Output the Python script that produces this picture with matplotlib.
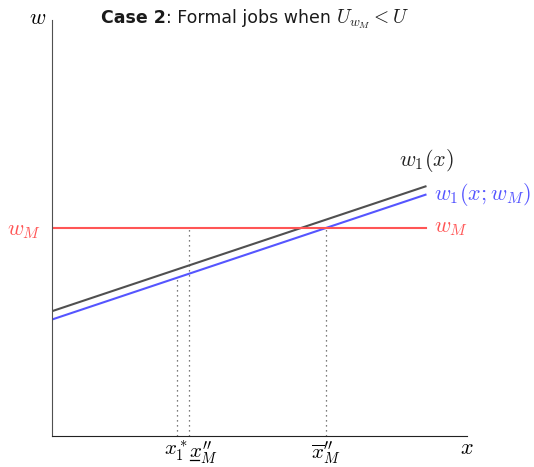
import numpy as np
import matplotlib.pyplot as plt
from matplotlib.lines import Line2D

plt.rcParams['mathtext.fontset'] = 'cm'

# wage schedules over productivity x
x_end = 9.0
w1_intercept, w1_slope = 3.0, 1 / 3
w1m_intercept, w1m_slope = 2.8, 1 / 3
w_min = 5.0

# cutoffs on the x axis
x_star = 3.0
x_low = 3.3
x_high = 6.6
tick_labels = [r'$x_1^*$', r'$x_M^{\prime\prime}$', r'$\overline{x}_M^{\prime\prime}$']

black = '#505050'
blue = '#5555ff'
red = '#ff5555'


def main():
    fig = plt.figure(figsize=(5.34, 4.67), dpi=100)
    ax = fig.add_axes([52 / 534, 31 / 467, 415 / 534, 416 / 467])

    xs = np.array([0, x_end])
    ax.plot(xs, w1_intercept + w1_slope * xs, color=black, lw=1.5)
    ax.plot(xs, w1m_intercept + w1m_slope * xs, color=blue, lw=1.5)
    ax.plot(xs, [w_min, w_min], color=red, lw=1.5)

    # dotted guides down to the x axis
    ax.plot([x_star, x_star], [0, w1m_intercept + w1m_slope * x_star], color=black, lw=0.9, ls=(0, (1, 3)))
    ax.plot([x_low, x_low], [0, w_min], color=black, lw=0.9, ls=(0, (1, 3)))
    ax.plot([x_high, x_high], [0, w_min], color=black, lw=0.9, ls=(0, (1, 3)))

    ax.set_xlim(0, 10)
    ax.set_ylim(0, 10)
    ax.spines['top'].set_visible(False)
    ax.spines['right'].set_visible(False)
    ax.spines['left'].set_color(black)
    ax.spines['bottom'].set_color('#222222')
    ax.tick_params(axis='x', length=0, labelsize=15, pad=2)
    ax.tick_params(axis='y', length=0, labelsize=16, pad=8)
    ax.set_xticks([x_star, x_low, x_high])
    ax.set_xticklabels(tick_labels)
    ax.get_xticklabels()[1].set_horizontalalignment('left')
    ax.set_yticks([w_min])
    ax.set_yticklabels([r'$w_M$'], color=red)

    ax.text(8.36, 6.63, r'$w_1(x)$', color='#222222', fontsize=16, ha='left', va='center')
    ax.text(x_end + 0.2, w1m_intercept + w1m_slope * x_end, r'$w_1(x; w_M)$', color=blue,
            fontsize=16, ha='left', va='center')
    ax.text(x_end + 0.2, w_min, r'$w_M$', color=red, fontsize=16, ha='left', va='center')

    ax.text(-0.34, 10.05, r'$w$', fontsize=16, ha='center', va='center', clip_on=False)
    ax.text(10.0, -0.28, r'$x$', fontsize=16, ha='center', va='center', clip_on=False)

    # title built from pieces: bold sans lead-in, plain text, then the math
    fig.canvas.draw()
    renderer = fig.canvas.get_renderer()
    pieces = [('Case 2', dict(weight='bold')), (': Formal jobs when ', {}),
              (r'$U_{w_M} < U$', dict(fontsize=14))]
    x0 = 101
    for s, kw in pieces:
        opts = dict(fontsize=12.5, family='DejaVu Sans', color='#1a1a1a', va='baseline',
                    ha='left', transform=None)
        opts.update(kw)
        t = fig.text(x0, 467 - 23, s, **opts)
        x0 = t.get_window_extent(renderer).x1

    # mathtext has no \underline, so draw the bar under the lower cutoff by hand
    bb = ax.get_xticklabels()[1].get_window_extent(renderer)
    y_bar = bb.y0 + 6
    fig.add_artist(Line2D([bb.x0 + 1, bb.x0 + 10], [y_bar, y_bar], transform=None,
                          color='black', lw=0.9))

    fig.savefig('out.png', dpi=100)


if __name__ == "__main__":
    main()
